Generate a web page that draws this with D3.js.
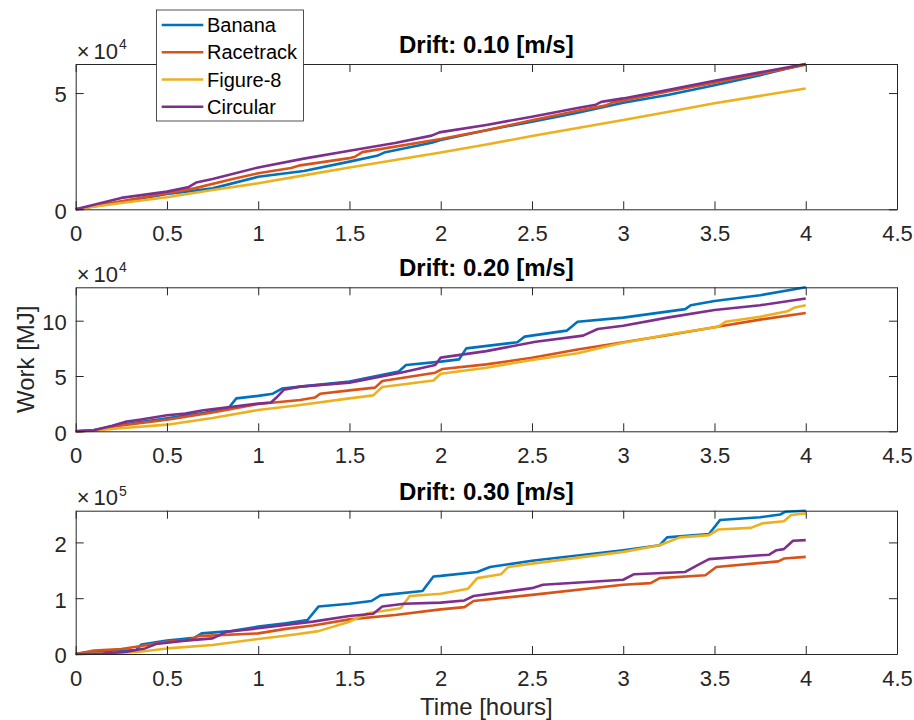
<!DOCTYPE html>
<html>
<head>
<meta charset="utf-8">
<script src="https://cdn.jsdelivr.net/npm/d3@7"></script>
<style>
  html, body { margin: 0; padding: 0; background: #fff; }
  svg { display: block; font-family: "Liberation Sans", Arial, Helvetica, sans-serif; }
</style>
</head>
<body>
<svg id="chart" width="914" height="720"></svg>
<script>
// Route names and line colours
const routes = ["Banana", "Racetrack", "Figure-8", "Circular"];
const routeColors = ["#0072BD", "#D95319", "#EDB120", "#7E2F8E"];

// Subplot titles
const driftLabels = ["Drift: 0.10 [m/s]", "Drift: 0.20 [m/s]", "Drift: 0.30 [m/s]"];

// Axis ticks
const hourTicks = [0, 0.5, 1, 1.5, 2, 2.5, 3, 3.5, 4, 4.5];
const workTicks010 = [0, 50000];
const workTicks020 = [0, 50000, 100000];
const workTicks030 = [0, 100000, 200000];
const workExponents = [4, 4, 5];

// Cumulative work [MJ] vs time [hours], drift 0.10 m/s
const banana010 = [[0,0],[0.25,3200],[0.5,6600],[0.75,9000],[1,14000],[1.25,16500],[1.5,20500],[1.65,23000],[1.69,24400],[1.95,28600],[2,29800],[2.25,34000],[2.5,37700],[2.75,41500],[3,45800],[3.25,49300],[3.5,53400],[3.75,57700],[4,62500]];
const racetrack010 = [[0,0],[0.25,3500],[0.5,6900],[0.65,9000],[0.86,13000],[1,15500],[1.18,17800],[1.23,18900],[1.5,22000],[1.53,22600],[1.57,24600],[2,30200],[2.25,34000],[2.5,38300],[2.75,42400],[2.9,44600],[2.94,45900],[3,46700],[3.25,50800],[3.5,54400],[3.75,58300],[4,62200]];
const figure8010 = [[0,0],[0.25,2700],[0.5,5200],[0.75,8300],[1,11200],[1.25,14600],[1.5,18000],[1.75,21200],[2,24400],[2.25,27900],[2.5,31500],[2.75,35000],[3,38400],[3.25,42000],[3.5,45600],[3.75,48800],[4,52000]];
const circular010 = [[0,0],[0.25,4900],[0.5,7600],[0.62,9600],[0.66,11500],[0.75,13000],[1,18000],[1.25,21800],[1.5,25200],[1.75,28500],[1.95,31700],[1.99,33000],[2,33200],[2.25,36300],[2.5,39800],[2.75,43600],[2.85,45000],[2.88,46200],[3,47700],[3.25,51400],[3.5,55300],[3.75,58900],[4,62500]];

// Drift 0.20 m/s
const banana020 = [[0,0],[0.1,1200],[0.23,5500],[0.5,11800],[0.7,16500],[0.84,21500],[0.88,29800],[1,32000],[1.08,34000],[1.13,38600],[1.23,40400],[1.5,44900],[1.77,54000],[1.81,60000],[2,63000],[2.1,65000],[2.14,75000],[2.42,80500],[2.46,85600],[2.69,91000],[2.75,99000],[3,102800],[3.34,110500],[3.37,114000],[3.5,117800],[3.75,123000],[4,130200]];
const racetrack020 = [[0,0],[0.1,800],[0.23,4800],[0.5,10500],[0.75,17000],[1,24700],[1.23,28300],[1.31,30500],[1.34,34000],[1.5,37000],[1.64,39500],[1.68,45500],[1.97,53000],[2.01,56400],[2.25,60500],[2.5,66500],[2.75,74000],[3,80500],[3.25,87000],[3.5,94000],[3.75,101000],[4,107000]];
const figure8020 = [[0,0],[0.1,500],[0.23,2500],[0.5,6000],[0.75,12000],[1,19300],[1.23,23800],[1.5,29800],[1.63,32500],[1.68,40000],[1.96,46000],[2,52000],[2.25,57500],[2.5,64500],[2.75,70500],[2.9,76500],[3,80000],[3.25,87500],[3.52,94500],[3.56,99000],[3.75,103600],[3.9,108500],[3.94,112000],[4,114000]];
const circular020 = [[0,0],[0.1,1000],[0.2,5000],[0.27,8500],[0.35,10500],[0.5,14500],[0.6,16000],[0.7,19000],[1,25000],[1.07,26000],[1.1,30500],[1.14,37500],[1.23,40400],[1.5,44000],[1.78,53000],[1.97,60000],[2,66600],[2.25,72500],[2.52,81000],[2.78,86500],[2.86,92500],[3,95500],[3.25,103000],[3.5,109700],[3.75,114000],[4,120000]];

// Drift 0.30 m/s
const banana030 = [[0,0],[0.06,3000],[0.2,5000],[0.33,7000],[0.36,17000],[0.5,24000],[0.65,29000],[0.69,37000],[0.85,41000],[1,49000],[1.15,55000],[1.27,61000],[1.33,85000],[1.5,90000],[1.62,95000],[1.67,105000],[1.9,113000],[1.96,139000],[2,140000],[2.2,147000],[2.27,156000],[2.5,167000],[3,186000],[3.2,195000],[3.24,209000],[3.47,215000],[3.53,240000],[3.75,245000],[3.86,250000],[3.89,255000],[4,256800]];
const racetrack030 = [[0,0],[0.1,6000],[0.25,9000],[0.35,14000],[0.5,22000],[0.62,25000],[0.67,32000],[1,37000],[1.15,45000],[1.3,51000],[1.5,62000],[1.75,70000],[2,80000],[2.13,84000],[2.18,95000],[2.5,106000],[3,124000],[3.15,127000],[3.2,136000],[3.45,141000],[3.51,156000],[3.85,166000],[3.88,171000],[4,174000]];
const figure8030 = [[0,0],[0.2,1500],[0.35,4000],[0.5,10000],[0.75,16000],[1,27000],[1.2,35000],[1.33,41000],[1.5,58000],[1.6,73000],[1.78,82000],[1.83,104000],[2,108000],[2.15,117000],[2.2,136000],[2.33,143000],[2.37,156000],[2.5,162000],[3,183000],[3.2,195000],[3.31,209000],[3.47,213000],[3.52,223000],[3.7,226000],[3.76,234000],[3.88,238000],[3.92,249000],[4,252000]];
const circular030 = [[0,0],[0.15,1000],[0.28,4000],[0.38,10000],[0.44,18000],[0.6,24000],[0.75,28000],[0.83,40000],[1,46000],[1.3,58000],[1.5,68000],[1.63,72000],[1.68,85000],[1.8,90000],[2,92000],[2.13,96000],[2.18,104000],[2.5,118000],[2.56,124000],[3,133000],[3.06,143000],[3.34,147000],[3.4,158000],[3.47,170000],[3.8,178000],[3.84,186000],[3.88,188000],[3.93,203000],[4,204000]];

const panelSeries = [
  [banana010, racetrack010, figure8010, circular010],
  [banana020, racetrack020, figure8020, circular020],
  [banana030, racetrack030, figure8030, circular030]
];
const panelTicks = [workTicks010, workTicks020, workTicks030];

// Layout
const axisColor = "#262626";
const plotLeft = 75.7, plotRight = 897;
const panelTops = [64, 287.3, 510.7];
const panelBottoms = [209.3, 431.3, 654];
const tickLen = 8;

const svg = d3.select("#chart");

function styleAxis(g) {
  g.attr("font-size", null).attr("font-family", null);
  g.select(".domain").attr("stroke", axisColor).attr("stroke-width", 1);
  g.selectAll(".tick line").attr("stroke", axisColor).attr("stroke-width", 1);
  g.selectAll(".tick text").attr("fill", axisColor).style("font-size", "22px");
}

panelSeries.forEach((seriesList, i) => {
  const top = panelTops[i], bottom = panelBottoms[i];
  const x = d3.scaleLinear().domain([0, 4.5]).range([plotLeft, plotRight]);
  const yMax = d3.max(seriesList, s => d3.max(s, d => d[1]));
  const y = d3.scaleLinear().domain([0, yMax]).range([bottom, top]);
  const scale = Math.pow(10, workExponents[i]);

  const g = svg.append("g");

  // data lines
  const line = d3.line().x(d => x(d[0])).y(d => y(d[1]));
  seriesList.forEach((s, k) => {
    g.append("path")
      .datum(s)
      .attr("d", line)
      .attr("fill", "none")
      .attr("stroke", routeColors[k])
      .attr("stroke-width", 2.6)
      .attr("stroke-linejoin", "round");
  });

  // axes box with inward ticks
  g.append("g")
    .attr("transform", `translate(0,${bottom})`)
    .call(d3.axisBottom(x).tickValues(hourTicks).tickSizeInner(-tickLen).tickSizeOuter(0)
      .tickPadding(16).tickFormat(d => String(d)))
    .call(styleAxis);
  g.append("g")
    .attr("transform", `translate(0,${top})`)
    .call(d3.axisTop(x).tickValues(hourTicks).tickSizeInner(-tickLen).tickSizeOuter(0).tickFormat(""))
    .call(styleAxis);
  g.append("g")
    .attr("transform", `translate(${plotLeft},0)`)
    .call(d3.axisLeft(y).tickValues(panelTicks[i]).tickSizeInner(-tickLen).tickSizeOuter(0)
      .tickPadding(9).tickFormat(d => String(d / scale)))
    .call(styleAxis)
    .selectAll(".tick text").attr("dy", "0.4em");
  g.append("g")
    .attr("transform", `translate(${plotRight},0)`)
    .call(d3.axisRight(y).tickValues(panelTicks[i]).tickSizeInner(-tickLen).tickSizeOuter(0).tickFormat(""))
    .call(styleAxis);

  // exponent note
  const ex = g.append("text")
    .attr("x", plotLeft + 1)
    .attr("y", top - 5.5)
    .attr("fill", axisColor)
    .style("font-size", "22px");
  ex.append("tspan").text("×");
  ex.append("tspan").attr("dx", 4).text("10");
  ex.append("tspan").attr("dx", 1).attr("dy", -9.5).style("font-size", "14px").text(String(workExponents[i]));

  // title
  g.append("text")
    .attr("x", (plotLeft + plotRight) / 2)
    .attr("y", top - 11)
    .attr("text-anchor", "middle")
    .attr("fill", "#000")
    .style("font-size", "24px")
    .style("font-weight", "bold")
    .text(driftLabels[i]);
});

// axis labels
svg.append("text")
  .attr("x", (plotLeft + plotRight) / 2)
  .attr("y", 715)
  .attr("text-anchor", "middle")
  .attr("fill", axisColor)
  .style("font-size", "24px")
  .text("Time [hours]");

svg.append("text")
  .attr("transform", `translate(33.5,${(panelTops[1] + panelBottoms[1]) / 2}) rotate(-90)`)
  .attr("text-anchor", "middle")
  .attr("fill", axisColor)
  .style("font-size", "24px")
  .text("Work [MJ]");

// legend
const legend = svg.append("g");
legend.append("rect")
  .attr("x", 156.5).attr("y", 10).attr("width", 147).attr("height", 111)
  .attr("fill", "#fff").attr("stroke", axisColor).attr("stroke-width", 0.8);
const rowY = d3.scalePoint().domain(routes).range([25, 106.7]);
routes.forEach((r, k) => {
  const yy = rowY(r);
  legend.append("line")
    .attr("x1", 161.7).attr("x2", 203.3).attr("y1", yy).attr("y2", yy)
    .attr("stroke", routeColors[k]).attr("stroke-width", 2.6);
  legend.append("text")
    .attr("x", 207).attr("y", yy + 7.2)
    .attr("fill", "#000")
    .style("font-size", "20px")
    .text(r);
});
</script>
</body>
</html>
